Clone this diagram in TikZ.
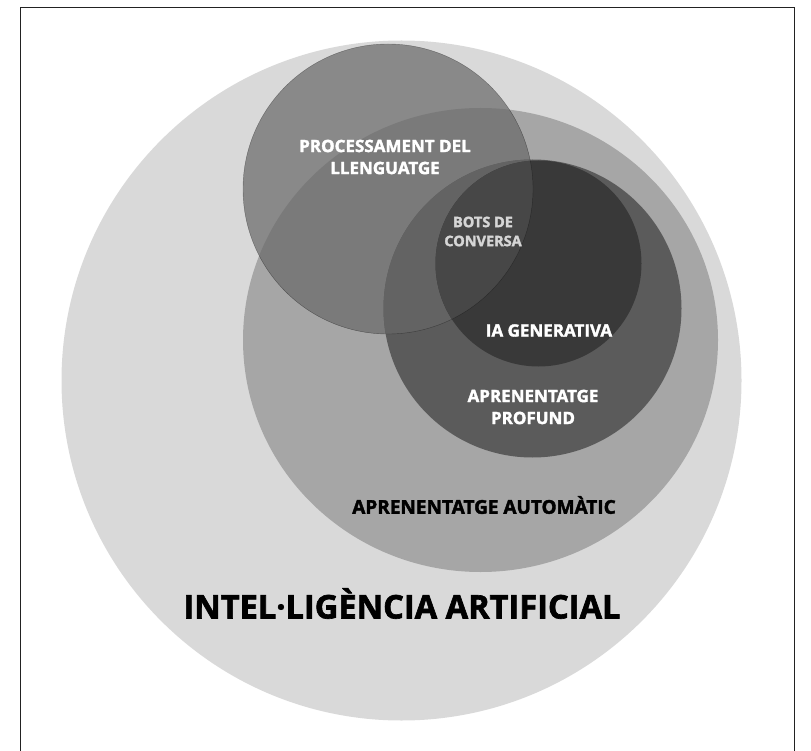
\documentclass[tikz,border=0pt]{standalone}
\usepackage{fontspec}
\setmainfont{Open Sans}[BoldFeatures={FakeBold=2}]
\definecolor{cBig}{HTML}{D9D9D9}
\definecolor{cML}{HTML}{A6A6A6}
\definecolor{cNLPa}{HTML}{898989}
\definecolor{cNLPb}{HTML}{7A7A7A}
\definecolor{cDL}{HTML}{5B5B5B}
\definecolor{cNLPc}{HTML}{636363}
\definecolor{cGen}{HTML}{393939}
\definecolor{cNLPd}{HTML}{474747}
\definecolor{cBots}{HTML}{D6D6D6}
\definecolor{cFrame}{HTML}{222222}
\tikzset{
  lbl/.style={align=center, font=\bfseries\fontsize{17}{22}\selectfont, text=white, inner sep=0pt},
  lblsmall/.style={align=center, font=\bfseries\fontsize{14.5}{19}\selectfont, text=cBots, inner sep=0pt},
  lblml/.style={align=center, font=\bfseries\fontsize{19}{22}\selectfont, text=black, inner sep=0pt},
  lblbig/.style={align=center, font=\bfseries\fontsize{32.6}{38}\selectfont, text=black, inner sep=0pt},
  nlpedge/.style={draw=black, draw opacity=0.35, line width=0.4pt}
}
\newcommand{\nlpshape}{(388,189) circle[radius=145pt]}
\begin{document}
\begin{tikzpicture}[x=1pt,y=-1pt]
\useasboundingbox (0,0) rectangle (811,751);
\clip (0,0) rectangle (811,751);
\coordinate (cbig) at (401.5,380.5);
\coordinate (cml) at (480.5,340);
\coordinate (cnlp) at (388,189);
\coordinate (cdl) at (532.5,308.5);
\coordinate (cgen) at (538.5,263.5);
% frame
\draw[cFrame, line width=1.5pt] (20.5,780) -- (20.5,7.5) -- (794.5,7.5) -- (794.5,780);
% big circle
\fill[cBig] (cbig) circle[radius=340pt];
% machine learning
\fill[cML] (cml) ellipse[x radius=237.5pt, y radius=232pt];
% NLP
\fill[cNLPa] \nlpshape;
\begin{scope}
  \clip (cml) ellipse[x radius=237.5pt, y radius=232pt];
  \fill[cNLPb] \nlpshape;
\end{scope}
% deep learning
\fill[cDL] (cdl) circle[radius=149pt];
\begin{scope}
  \clip (cdl) circle[radius=149pt];
  \fill[cNLPc] \nlpshape;
\end{scope}
% generative AI
\fill[cGen] (cgen) circle[radius=103pt];
\begin{scope}
  \clip (cgen) circle[radius=103pt];
  \fill[cNLPd] \nlpshape;
\end{scope}
\path[nlpedge] \nlpshape;
% labels
\node[lbl] (tnlp) at (385,157) {PROCESSAMENT DEL\\LLENGUATGE};
\node[lblsmall] (tbots) at (483,231.5) {BOTS DE\\CONVERSA};
\node[lbl] (tgen) at (549,330.5) {IA GENERATIVA};
\node[lbl] (tdl) at (533,407) {APRENENTATGE\\PROFUND};
\node[lblml] (tml) at (484,505) {APRENENTATGE AUTOMÀTIC};
\node[lblbig] (tia) at (402,603.5) {INTEL·LIGÈNCIA ARTIFICIAL};
\end{tikzpicture}
\end{document}
